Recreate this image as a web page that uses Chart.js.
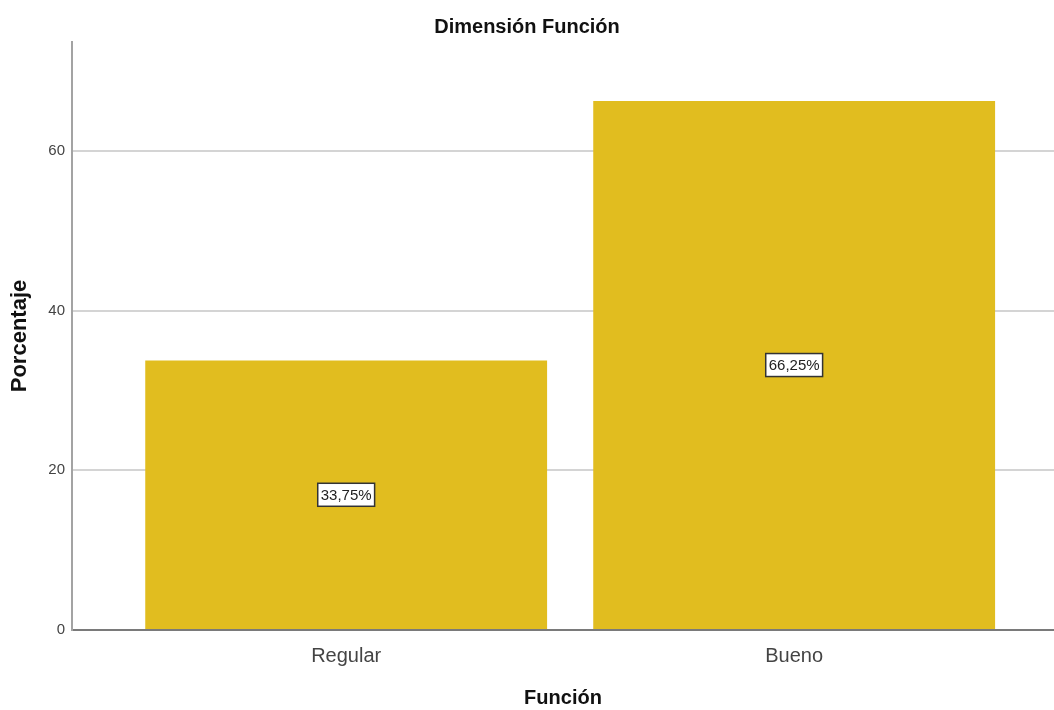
<!DOCTYPE html>
<html>
<head>
<meta charset="utf-8">
<title>Dimensión Función</title>
<script src="https://cdn.jsdelivr.net/npm/chart.js@4/dist/chart.umd.min.js"></script>
<style>
  html, body { margin: 0; padding: 0; background: #fff; }
  #wrap { width: 1054px; height: 710px; }
</style>
</head>
<body>
<div id="wrap"><canvas id="grafico"></canvas></div>
<script>
// datos del gráfico
const categorias = ['Regular', 'Bueno'];
const porcentajes = [33.75, 66.25];
const ticksY = [0, 20, 40, 60];

const amarillo = '#E1BD1F';
const sans = '"Liberation Sans", Arial, sans-serif';

// formato español: coma decimal
const formatoPct = (v) => v.toFixed(2).replace('.', ',') + '%';

// etiqueta blanca con borde en el centro de cada barra
const etiquetasBarras = {
    id: 'etiquetasBarras',
    afterDatasetsDraw(chart) {
        const ctx = chart.ctx;
        const meta = chart.getDatasetMeta(0);
        ctx.save();
        ctx.font = '15px ' + sans;
        ctx.textAlign = 'center';
        ctx.textBaseline = 'middle';
        meta.data.forEach((bar, i) => {
            const texto = formatoPct(porcentajes[i]);
            const cx = bar.x;
            const cy = (bar.y + bar.base) / 2;
            const w = ctx.measureText(texto).width + 6;
            const h = 23;
            ctx.fillStyle = '#fff';
            ctx.fillRect(cx - w / 2, cy - h / 2, w, h);
            ctx.lineWidth = 1.5;
            ctx.strokeStyle = '#333';
            ctx.strokeRect(cx - w / 2, cy - h / 2, w, h);
            ctx.fillStyle = '#222';
            ctx.fillText(texto, cx, cy + 1);
        });
        ctx.restore();
    }
};

new Chart(document.getElementById('grafico'), {
    type: 'bar',
    data: {
        datasets: [{
            data: porcentajes.map((v, i) => ({ x: i, y: v })),
            backgroundColor: amarillo,
            borderWidth: 0,
            categoryPercentage: 1,
            barPercentage: 0.897
        }]
    },
    options: {
        responsive: true,
        maintainAspectRatio: false,
        animation: false,
        events: [],
        layout: { padding: 0 },
        plugins: {
            legend: { display: false },
            tooltip: { enabled: false },
            title: {
                display: true,
                text: 'Dimensión Función',
                color: '#111',
                font: { family: sans, size: 20, weight: 'bold' },
                padding: { top: 15, bottom: 3 }
            }
        },
        scales: {
            x: {
                type: 'linear',
                offset: false,
                min: -0.612,
                max: 1.58,
                grid: { display: false, drawTicks: false, offset: false },
                border: { display: true, color: '#7a7a7a', width: 2 },
                afterBuildTicks: (scale) => {
                    scale.ticks = categorias.map((c, i) => ({ value: i }));
                },
                afterFit: (scale) => { scale.height = 80; },
                ticks: {
                    padding: 14,
                    color: '#444',
                    font: { family: sans, size: 20 },
                    callback: (v) => categorias[v]
                },
                title: {
                    display: true,
                    text: 'Función',
                    color: '#111',
                    font: { family: sans, size: 20, weight: 'bold' },
                    padding: { top: 18, bottom: 0 }
                }
            },
            y: {
                min: 0,
                max: 73.65,
                grid: { color: '#d4d4d4', lineWidth: 2, drawTicks: false },
                border: { display: true, color: '#a3a3a3', width: 2 },
                afterBuildTicks: (scale) => {
                    scale.ticks = ticksY.map(v => ({ value: v }));
                },
                afterFit: (scale) => { scale.width = 72; },
                ticks: {
                    padding: 7,
                    color: '#444',
                    font: { family: sans, size: 15 }
                },
                title: {
                    display: true,
                    text: 'Porcentaje',
                    color: '#111',
                    font: { family: sans, size: 22, weight: 'bold' },
                    padding: { top: 7, bottom: 0 }
                }
            }
        }
    },
    plugins: [etiquetasBarras]
});
</script>
</body>
</html>
